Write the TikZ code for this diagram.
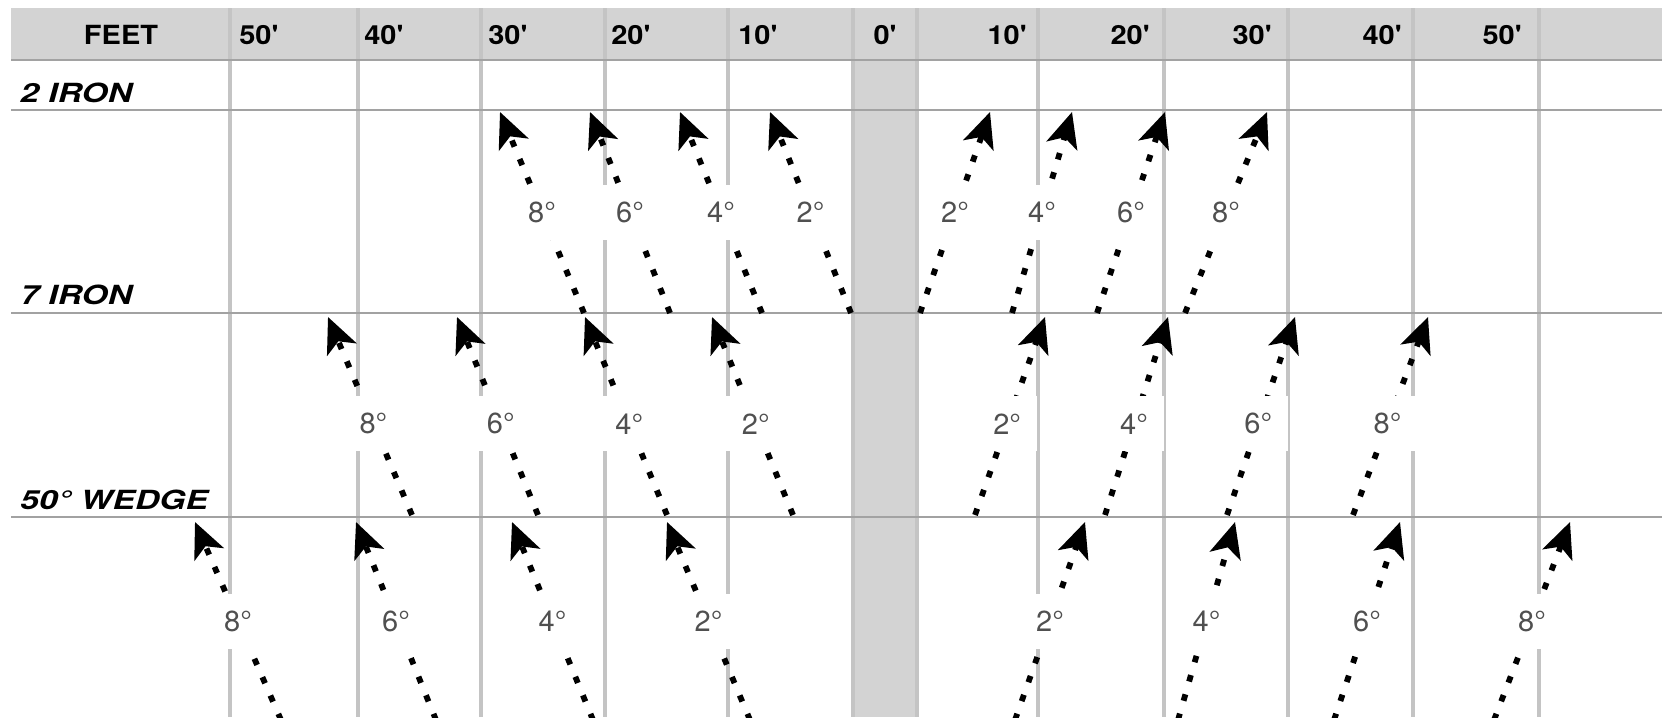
\documentclass[tikz,border=0pt]{standalone}
\usepackage{fontspec}
\setmainfont{TeX Gyre Heros}
\newfontfamily\headfont[FakeStretch=1.1]{TeX Gyre Heros}
\newfontfamily\clubfont[FakeStretch=1.28]{TeX Gyre Heros}
\usetikzlibrary{arrows.meta}
\definecolor{gridgray}{HTML}{C4C4C4}
\definecolor{rulegray}{HTML}{A2A2A2}
\definecolor{bandgray}{HTML}{D3D3D3}
\definecolor{labgray}{HTML}{505050}

\begin{document}
\begin{tikzpicture}[x=0.02cm,y=-0.02cm,line join=round,
  colline/.style={draw=gridgray,line width=2pt},
  rowline/.style={draw=rulegray,line width=1.6pt},
  headtxt/.style={font=\headfont\bfseries\fontsize{15}{15}\selectfont,inner sep=0pt},
  clubtxt/.style={font=\clubfont\bfseries\itshape\fontsize{15}{15}\selectfont,anchor=west,inner sep=0pt},
  shot/.style={line width=3.3pt,dash pattern=on 3.8pt off 7.6pt,
    -{Stealth[length=20pt,width=18pt,inset=5pt,fill=black]}},
  degtxt/.style={fill=white,text=labgray,font=\fontsize{16.5}{16.5}\selectfont,
    minimum width=1.2cm,minimum height=1.1cm,inner sep=0pt}]
  \clip (0,0) rectangle (1665,717);
  \fill[white] (0,0) rectangle (1665,717);

  % header band and the 0' column
  \fill[bandgray] (11,8) rectangle (1662,60);
  \fill[bandgray] (853,60) rectangle (917,717);

  % grid
  \foreach \x in {230,358,481,605,728,853,917,1038,1164,1288,1413,1539}
    \draw[colline] (\x,8) -- (\x,717);
  \foreach \y in {60,110,313,517}
    \draw[rowline] (11,\y) -- (1662,\y);

  % header
  \node[headtxt] (feet) at (121,35) {FEET};
  \foreach \x/\t in {239/50,364/40,488/30,611/20,738/10}
    \node[headtxt,anchor=west] (hl\t) at (\x,35) {\t'};
  \node[headtxt] (h0) at (885,35) {0'};
  \foreach \x/\t in {1027/10,1150/20,1272/30,1402/40,1522/50}
    \node[headtxt,anchor=east] (hr\t) at (\x,35) {\t'};

  % clubs
  \node[clubtxt] (iron2) at (20,93) {2 IRON};
  \node[clubtxt] (iron7) at (20,295) {7 IRON};
  \node[clubtxt] (wedge) at (20,500) {50° WEDGE};

  % 2 iron
  \foreach \bx/\tx/\d [count=\k] in {584/500/8,670/590/6,762/680/4,851/770/2,
      920/990/2,1012/1072/4,1097/1165/6,1185/1267/8} {
    \coordinate (twoA\k) at (\bx,313);
    \coordinate (twoB\k) at (\tx,112);
    \draw[shot] (twoA\k) -- node[degtxt,pos=0.5] (twoL\k) {\d°} (twoB\k);
  }

  % 7 iron
  \foreach \bx/\tx/\d [count=\k] in {412/328/8,538/457/6,667/585/4,793/712/2,
      975/1045/2,1105/1168/4,1227/1295/6,1353/1428/8} {
    \coordinate (sevA\k) at (\bx,515);
    \coordinate (sevB\k) at (\tx,317);
    \draw[shot] (sevA\k) -- node[degtxt,pos=0.46] (sevL\k) {\d°} (sevB\k);
  }

  % 50 deg wedge
  \foreach \bx/\tx/\d [count=\k] in {281/195/8,436/356/6,593/512/4,750/667/2,
      1015/1085/2,1178/1235/4,1334/1400/6,1494/1570/8} {
    \coordinate (wedA\k) at (\bx,720);
    \coordinate (wedB\k) at (\tx,522);
    \draw[shot] (wedA\k) -- node[degtxt,pos=0.5] (wedL\k) {\d°} (wedB\k);
  }
\end{tikzpicture}
\end{document}
